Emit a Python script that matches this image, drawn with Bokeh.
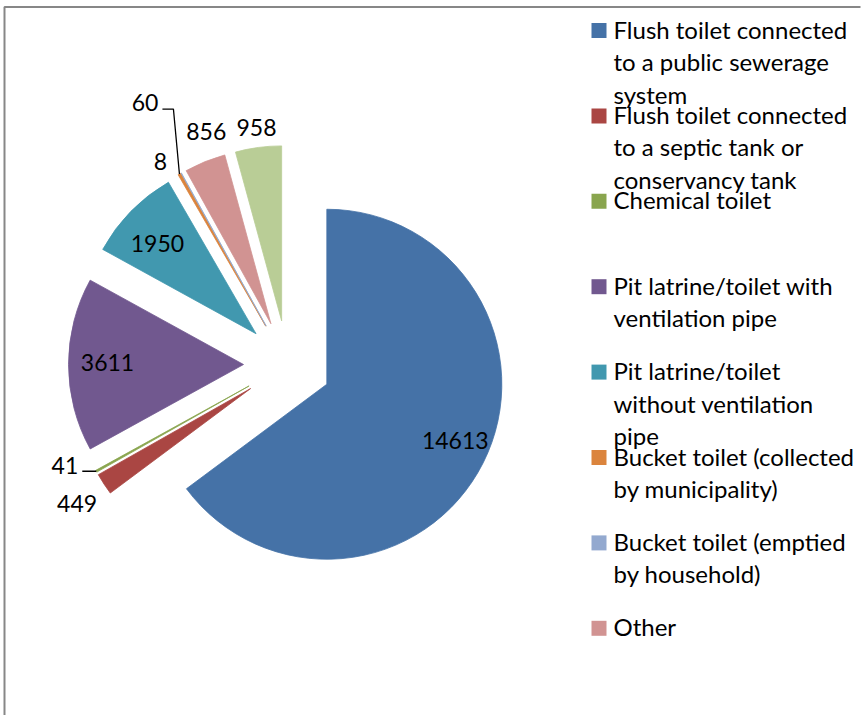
import numpy as np
from bokeh.plotting import figure
from bokeh.models import Range1d
from bokeh.core.properties import value
from bokeh.embed import file_html
from bokeh.resources import INLINE

# ---------------- data ----------------
categories = [
    "Flush toilet connected\nto a public sewerage\nsystem",
    "Flush toilet connected\nto a septic tank or\nconservancy tank",
    "Chemical toilet",
    "Pit latrine/toilet with\nventilation pipe",
    "Pit latrine/toilet\nwithout ventilation\npipe",
    "Bucket toilet (collected\nby municipality)",
    "Bucket toilet (emptied\nby household)",
    "Other",
    "None",
]
values = [14613, 449, 41, 3611, 1950, 60, 8, 856, 958]
colors = ["#4572A7", "#AA4643", "#89A54E", "#71588F", "#4198AF",
          "#DB843D", "#93A9CF", "#D19392", "#B9CD96"]
legend_shown = 8  # the last legend entry is cut off by the chart area

# ---------------- layout ----------------
W, H = 868, 715
CX, CY = 287, 351          # pie centre (data units = pixels, y up)
R = 175                    # pie radius
EXPLODE = 44               # explosion distance
FONT = value("Lato")

# label placement: distance factor (x R) and angle nudge (deg); None = leader line
label_f = [0.80, 1.19, None, 0.777, 0.763, None, 1.117, 1.158, 1.114]
label_dphi = [-2.4, -0.4, 0, 0.6, -1.5, 0, -3.0, 2.9, 0.2]

p = figure(width=W, height=H, x_range=Range1d(0, W), y_range=Range1d(0, H),
           output_backend="svg", toolbar_location=None,
           x_axis_location=None, y_axis_location=None, min_border=0)
p.grid.visible = False
p.outline_line_color = None
p.background_fill_color = "white"
p.border_fill_color = "white"

vals = np.array(values, dtype=float)
frac = vals / vals.sum()
ends = np.cumsum(frac) * 360.0           # clockwise from top, degrees
starts = ends - frac * 360.0
mids = (starts + ends) / 2.0


def direction(theta_deg):
    t = np.radians(theta_deg)
    return np.sin(t), np.cos(t)


xs, ys = [], []
for m in mids:
    dx, dy = direction(m)
    xs.append(CX + EXPLODE * dx)
    ys.append(CY + EXPLODE * dy)

p.wedge(x=xs, y=ys, radius=R,
        start_angle=list(np.radians(90 - ends)),
        end_angle=list(np.radians(90 - starts)),
        fill_color=colors, line_color=colors, line_width=0.8,
        direction="anticlock")

# data labels
for i, v in enumerate(values):
    f = label_f[i]
    if f is None:
        continue
    dx, dy = direction(mids[i] + label_dphi[i])
    d = EXPLODE + f * R
    p.text(x=[CX + d * dx], y=[CY + d * dy], text=[str(v)],
           text_font=FONT, text_font_size="23px", text_color="black",
           text_align="center", text_baseline="middle")

# leader-line labels
# chemical toilet (41)
i = 2
dx, dy = direction(mids[i])
tx, ty = xs[i] + R * dx, ys[i] + R * dy
p.line(x=[tx, tx - 14], y=[ty, ty], line_color="black", line_width=1.3)
p.text(x=[tx - 18], y=[ty + 6], text=[str(values[i])], text_font=FONT,
       text_font_size="23px", text_align="right", text_baseline="middle",
       text_color="black")
# bucket toilet collected (60)
i = 5
dx, dy = direction(mids[i])
tx, ty = xs[i] + R * dx, ys[i] + R * dy
p.line(x=[tx, tx - 6, tx - 17], y=[ty, ty + 65, ty + 65],
       line_color="black", line_width=1.3)
p.text(x=[tx - 21], y=[ty + 72], text=[str(values[i])], text_font=FONT,
       text_font_size="23px", text_align="right", text_baseline="middle",
       text_color="black")

# legend (drawn manually so the wrapped lines match)
LX, LY0, LSTEP, LINE = 598.5, H - 30, -85.4, 32.5
for k in range(legend_shown):
    yk = LY0 + k * LSTEP
    p.rect(x=[LX], y=[yk], width=15, height=15, fill_color=colors[k],
           line_color=None)
    for j, ln in enumerate(categories[k].split("\n")):
        p.text(x=[LX + 14.5], y=[yk + 1.5 - j * LINE], text=[ln],
               text_font=FONT, text_font_size="24px", text_color="black",
               text_align="left", text_baseline="middle")

# chart area border (partly outside the window)
p.line(x=[4, 4, 860], y=[0, H - 6.5, H - 6.5], line_color="#878787",
       line_width=2)

open("out.html", "w").write(file_html(p, INLINE))
